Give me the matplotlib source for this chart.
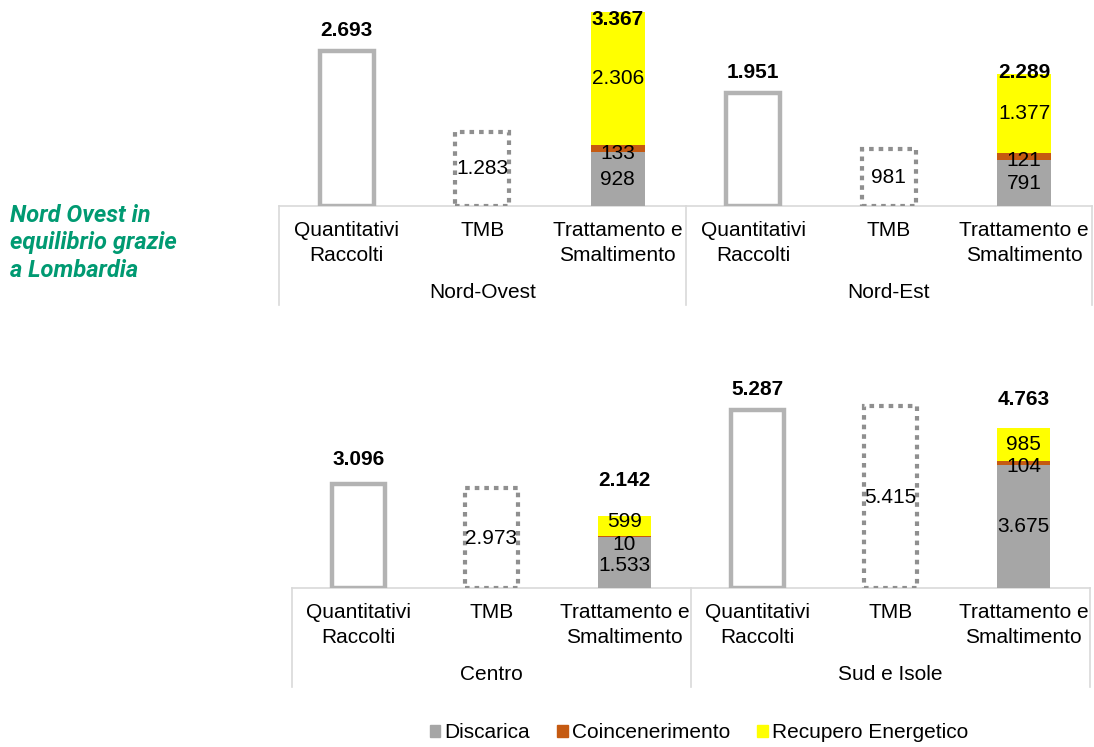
import matplotlib.pyplot as plt
from matplotlib.patches import Patch
from matplotlib.lines import Line2D

# ---------------- data ----------------
regions = ["Nord-Ovest", "Nord-Est", "Centro", "Sud e Isole"]
categories = ["Quantitativi\nRaccolti", "TMB", "Trattamento e\nSmaltimento"]
raccolti = [2693, 1951, 3096, 5287]
tmb = [1283, 981, 2973, 5415]
discarica = [928, 791, 1533, 3675]
coincenerimento = [133, 121, 10, 104]
recupero = [2306, 1377, 599, 985]
totali = [3367, 2289, 2142, 4763]

note = "Nord Ovest in\nequilibrio grazie\na Lombardia"

# ---------------- style ----------------
W, H = 1094, 747
C_GRAY = "#a6a6a6"
C_ORANGE = "#c55a11"
C_YELLOW = "#ffff00"
C_EDGE = "#b3b3b3"
C_DOT = "#8f8f8f"
C_FRAME = "#d9d9d9"
C_GREEN = "#009a72"
FS = 15

plt.rcParams["font.family"] = ["Liberation Sans", "DejaVu Sans"]

# pixel offsets of the total labels above bar tops (Raccolti, Trattamento) per region
total_offsets = {0: (20, -8), 1: (21, 1), 2: (24, 36), 3: (21, 28)}
# pixel nudges of the stacked labels (discarica, coinc., recupero) per region
inner_nudges = {0: (0, -5, 0), 1: (0, -4, 0), 2: (-3, -8, 5), 3: (0, -4, 0)}


def fmt(v):
    return f"{v:,}".replace(",", ".")


def px_rect(l, t, r, b):
    return [l / W, 1 - b / H, (r - l) / W, (b - t) / H]


fig = plt.figure(figsize=(W / 100, H / 100), dpi=100)

rows = [
    (px_rect(279, 0, 1092, 206), 3570, (0, 1)),
    (px_rect(292, 330, 1090, 588), 7680, (2, 3)),
]

for rect, ytop, pair in rows:
    ax = fig.add_axes(rect)
    ax.set_xlim(-0.5, 5.5)
    ax.set_ylim(0, ytop)
    ax.axis("off")
    h_px = rect[3] * H

    for g, r in enumerate(pair):
        base = g * 3
        xr, xt, xs = base, base + 1, base + 2

        # Quantitativi raccolti: outlined bar
        ax.bar(xr, raccolti[r], width=0.4, facecolor="white", edgecolor=C_EDGE,
               linewidth=3.2, zorder=3)
        # TMB: dotted outline
        ax.bar(xt, tmb[r], width=0.4, facecolor="none", edgecolor=C_DOT,
               linewidth=3.0, linestyle=(0, (1.1, 1.2)), zorder=3)
        # Trattamento e smaltimento: stacked
        ax.bar(xs, discarica[r], width=0.4, color=C_GRAY, zorder=3)
        ax.bar(xs, coincenerimento[r], bottom=discarica[r], width=0.4,
               color=C_ORANGE, zorder=3)
        b2 = discarica[r] + coincenerimento[r]
        ax.bar(xs, recupero[r], bottom=b2, width=0.4, color=C_YELLOW, zorder=3)

        # labels inside
        ax.text(xt, tmb[r] / 2, fmt(tmb[r]), ha="center", va="center",
                fontsize=FS, zorder=5)
        n1, n2, n3 = inner_nudges[r]
        mids = [discarica[r] / 2, discarica[r] + coincenerimento[r] / 2,
                b2 + recupero[r] / 2]
        vals = [discarica[r], coincenerimento[r], recupero[r]]
        for v, m, n in zip(vals, mids, (n1, n2, n3)):
            ax.annotate(fmt(v), (xs, m), xytext=(0, n),
                        textcoords="offset pixels", ha="center", va="center",
                        fontsize=FS, zorder=5)

        # totals
        o1, o2 = total_offsets[r]
        ax.annotate(fmt(raccolti[r]), (xr, raccolti[r]), xytext=(0, o1),
                    textcoords="offset pixels", ha="center", va="center",
                    fontsize=FS, fontweight="bold", annotation_clip=False)
        ax.annotate(fmt(totali[r]), (xs, totali[r]), xytext=(0, o2),
                    textcoords="offset pixels", ha="center", va="center",
                    fontsize=FS, fontweight="bold", annotation_clip=False,
                    zorder=6)

        # category labels
        for x, lab in zip((xr, xt, xs), categories):
            ax.annotate(lab, (x, 0), xycoords=("data", "axes fraction"),
                        xytext=(0, -15), textcoords="offset pixels",
                        ha="center", va="top", fontsize=FS, linespacing=1.4,
                        annotation_clip=False)
        ax.annotate(regions[r], (base + 1, 0), xycoords=("data", "axes fraction"),
                    xytext=(0, -87), textcoords="offset pixels", ha="center",
                    va="center", fontsize=FS, annotation_clip=False)

    # multi-level axis frame
    depth = -99 / h_px
    ax.add_line(Line2D([-0.5, 5.5], [0, 0], color=C_FRAME, lw=1.2, zorder=2,
                       transform=ax.get_xaxis_transform(), clip_on=False))
    for xv in (-0.5, 2.5, 5.5):
        ax.add_line(Line2D([xv, xv], [0, depth], color=C_FRAME, lw=1.2,
                           transform=ax.get_xaxis_transform(), clip_on=False))

# side note
fig.text(10 / W, 1 - 204 / H, note, ha="left", va="top", color=C_GREEN,
         fontsize=17, fontweight="bold", fontstyle="italic",
         family=["Roboto", "DejaVu Sans"], linespacing=1.25)

handles = [Patch(color=C_GRAY, label="Discarica"),
           Patch(color=C_ORANGE, label="Coincenerimento"),
           Patch(color=C_YELLOW, label="Recupero Energetico")]
fig.legend(handles=handles, loc="center", bbox_to_anchor=(699 / W, 1 - 733 / H),
           ncol=3, frameon=False, fontsize=FS, handlelength=0.5,
           handleheight=0.5, handletextpad=0.2, columnspacing=1.3)

fig.savefig("out.png", dpi=100)
